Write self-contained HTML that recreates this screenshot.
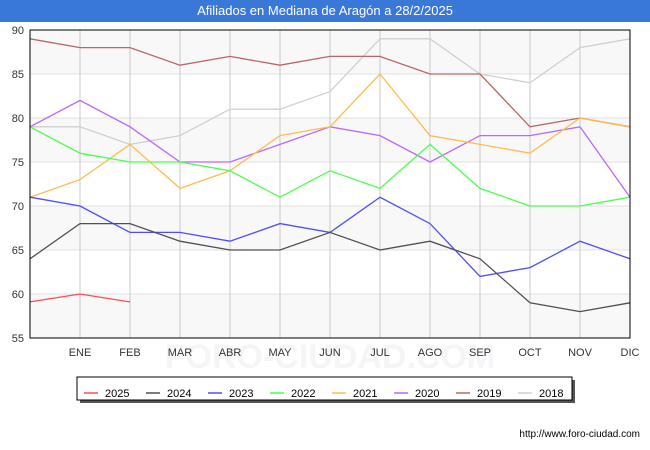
<!DOCTYPE html>
<html><head><meta charset="utf-8"><style>
body{margin:0;background:#fff;font-family:"Liberation Sans",sans-serif}
#t{position:absolute;left:0;top:0;width:650px;height:22px;background:#3a78d8;color:#fff;font-size:13px;text-align:center;line-height:22px}
</style></head><body>
<div id="t">Afiliados en Mediana de Aragón a 28/2/2025</div>
<svg id="c" width="650" height="450" style="position:absolute;left:0;top:0"></svg>
<script>
const months=["","ENE","FEB","MAR","ABR","MAY","JUN","JUL","AGO","SEP","OCT","NOV","DIC"];
const yTicks=[55,60,65,70,75,80,85,90];
const seriesNames=["2025","2024","2023","2022","2021","2020","2019","2018"];
const seriesColors=["#ff4d4d","#505050","#4d4dff","#4dff4d","#ffbb4d","#bb66ff","#bb6666","#d0d0d0"];
const s2025=[59.1,60,59.1];
const s2024=[64,68,68,66,65,65,67,65,66,64,59,58,59];
const s2023=[71,70,67,67,66,68,67,71,68,62,63,66,64];
const s2022=[79,76,75,75,74,71,74,72,77,72,70,70,71];
const s2021=[71,73,77,72,74,78,79,85,78,77,76,80,79];
const s2020=[79,82,79,75,75,77,79,78,75,78,78,79,71];
const s2019=[89,88,88,86,87,86,87,87,85,85,79,80,79];
const s2018=[79,79,77,78,81,81,83,89,89,85,84,88,89];
const allSeries=[s2025,s2024,s2023,s2022,s2021,s2020,s2019,s2018];
const X0=30,X1=630,Y0=338,Y1=30;
const xs=i=>X0+i*(X1-X0)/12;
const ys=v=>Y0-(v-55)*(Y0-Y1)/35;
const svg=document.getElementById('c');
const NS='http://www.w3.org/2000/svg';
function mk(tag,at,parent){const e=document.createElementNS(NS,tag);for(const k in at)e.setAttribute(k,at[k]);(parent||svg).appendChild(e);return e;}
const wm=mk('text',{x:330,y:368,'text-anchor':'middle','font-size':34,fill:'#f5f5f8','font-weight':'bold'});
wm.textContent='FORO-CIUDAD.COM';


for(let i=0;i<yTicks.length-1;i++){
  const r=mk('rect',{x:X0,y:ys(yTicks[i+1]),width:X1-X0,height:ys(yTicks[i])-ys(yTicks[i+1]),fill:(i%2===0)?'#f8f8f8':'#ffffff'});
  
  
}
yTicks.forEach(v=>{
  const l=mk('line',{x1:X0,x2:X1,y1:ys(v),y2:ys(v),stroke:'#e0e0e0'});
  
  
  const t=mk('text',{x:X0-6,y:ys(v)+4,'text-anchor':'end','font-size':11,fill:'#333'});
  t.textContent=v;
  
  
});
months.forEach((m,i)=>{
  if(i===0)return;
  const l=mk('line',{x1:xs(i),x2:xs(i),y1:Y1,y2:Y0,stroke:'#c8c8c8'});
  
  
  const t=mk('text',{x:xs(i),y:356,'text-anchor':'middle','font-size':11,fill:'#333'});
  t.textContent=m;
  
  
});
for(let k=allSeries.length-1;k>=0;k--){
  const p=mk('polyline',{points:allSeries[k].map((v,i)=>xs(i)+','+ys(v)).join(' '),fill:'none',stroke:seriesColors[k],'stroke-width':1.3});
  
  
}
mk('rect',{x:X0,y:Y1,width:X1-X0,height:Y0-Y1,fill:'none',stroke:'#000'});
const lg=mk('g',{});


mk('rect',{x:80,y:380,width:495,height:23,fill:'#555'},lg);
mk('rect',{x:77,y:377,width:495,height:23,fill:'#fff',stroke:'#000'},lg);
seriesNames.forEach((n,i)=>{
  const x=84+i*62;
  const g=mk('g',{},lg);
  
  
  mk('line',{x1:x,x2:x+14,y1:393,y2:393,stroke:seriesColors[i],'stroke-width':1.5},g);
  const t=mk('text',{x:x+21,y:397,'font-size':11,fill:'#000'},g);
  t.textContent=n;
});
const u=mk('text',{x:640,y:437,'text-anchor':'end','font-size':10,fill:'#000'});
u.textContent='http://www.foro-ciudad.com';


</script>
</body></html>
